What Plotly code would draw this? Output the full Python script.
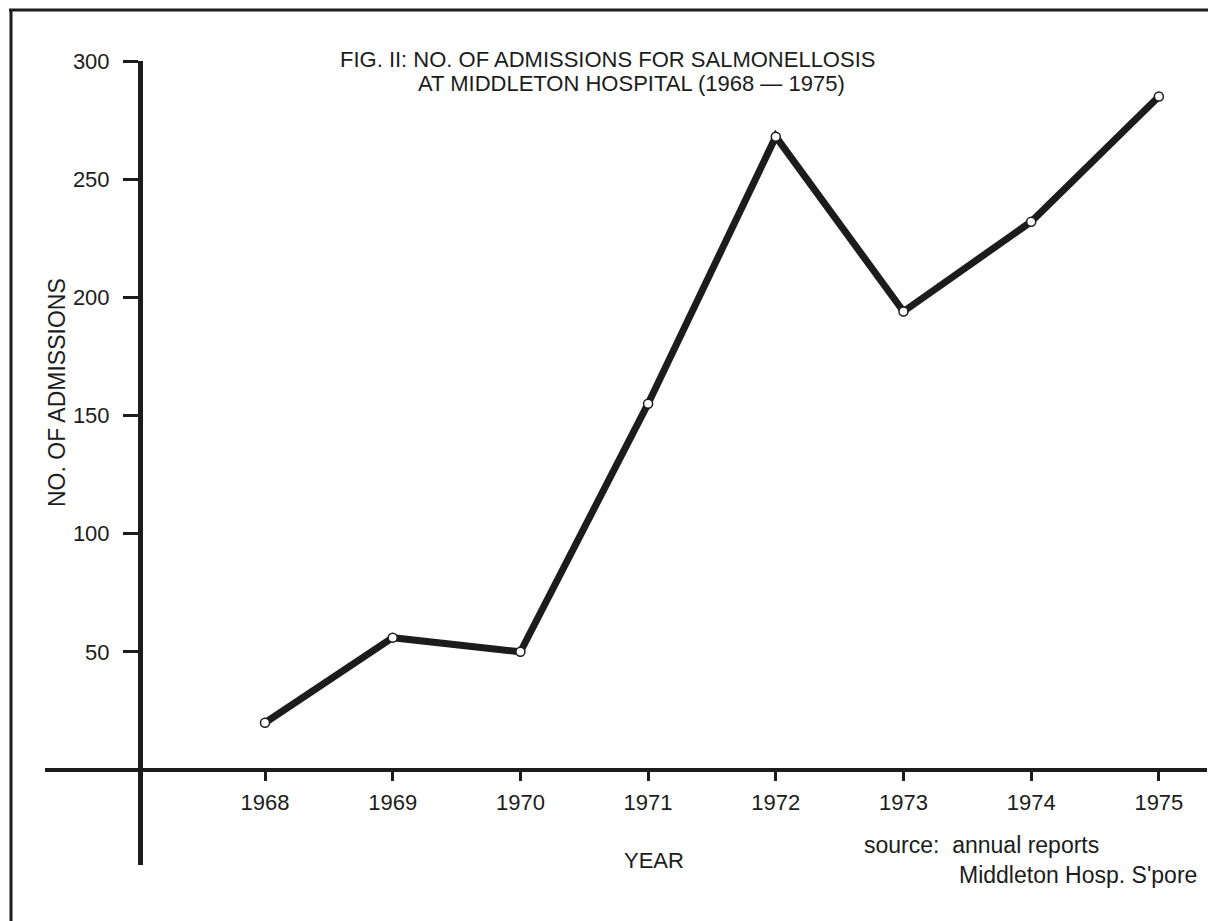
import plotly.graph_objects as go

years = [1968, 1969, 1970, 1971, 1972, 1973, 1974, 1975]
admissions = [20, 56, 50, 155, 268, 194, 232, 285]
ytick_vals = [50, 100, 150, 200, 250, 300]
xtick_vals = years
xtick_text = [str(y) for y in years]

# browser body margin (8px) is compensated: figure is 8px smaller
OFF = 8
W, H = 1216 - OFF, 921 - OFF
L, T = 45 - OFF, 61 - OFF          # plot-area left/top (page coords 45, 61)
R = W - (1207 - OFF)               # plot-area right at page x=1207
B = H - (865 - OFF)                # plot-area bottom at page y=865
pw, ph = W - L - R, H - T - B

def px(x):  # page x -> paper
    return (x - OFF - L) / pw

def py(y):  # page y -> paper
    return (H - B - (y - OFF)) / ph

INK = "#1c1c1c"
FONT = "Liberation Sans, Arial, Helvetica, sans-serif"

fig = go.Figure()
fig.add_trace(go.Scatter(
    x=years, y=admissions, mode="lines+markers",
    line=dict(color=INK, width=7),
    marker=dict(symbol="circle", size=9, color="white",
                line=dict(color=INK, width=1.5)),
    showlegend=False, hoverinfo="x+y",
))

fig.update_layout(
    width=W, height=H,
    margin=dict(l=L, r=R, t=T, b=B, pad=0),
    paper_bgcolor="white", plot_bgcolor="white",
    font=dict(family=FONT, color=INK, size=20),
    xaxis=dict(
        range=[1966.277, 1975.377], showgrid=False, zeroline=False,
        anchor="free", position=py(770),
        showline=True, linewidth=4, linecolor=INK,
        tickmode="array", tickvals=xtick_vals, ticktext=xtick_text,
        ticks="outside", ticklen=9, tickwidth=3, tickcolor=INK,
        tickfont=dict(size=22, family=FONT, color=INK),
        ticklabelstandoff=3,
    ),
    yaxis=dict(
        range=[-40.2, 300], showgrid=False, zeroline=False,
        anchor="free", position=px(140),
        showline=True, linewidth=5, linecolor=INK,
        tickmode="array", tickvals=ytick_vals,
        ticks="outside", ticklen=15, tickwidth=3, tickcolor=INK,
        tickfont=dict(size=22, family=FONT, color=INK),
        ticklabelstandoff=9,
    ),
)

ann = [
    dict(text="FIG. II: NO. OF ADMISSIONS FOR SALMONELLOSIS", x=px(607), y=py(60), size=22),
    dict(text="AT MIDDLETON HOSPITAL (1968 — 1975)", x=px(631), y=py(84), size=22),
    dict(text="YEAR", x=px(654), y=py(860), size=22),
]
for a in ann:
    fig.add_annotation(text=a["text"], x=a["x"], y=a["y"], xref="paper", yref="paper",
                       xanchor="center", yanchor="middle", showarrow=False,
                       font=dict(size=a["size"], family=FONT, color=INK))

fig.add_annotation(text="NO. OF ADMISSIONS", x=px(57), y=py(393), xref="paper", yref="paper",
                   xanchor="center", yanchor="middle", textangle=-90, showarrow=False,
                   font=dict(size=23, family=FONT, color=INK))
fig.add_annotation(text="source:  annual reports", x=px(862), y=py(845), xref="paper", yref="paper",
                   xanchor="left", yanchor="middle", showarrow=False,
                   font=dict(size=23, family=FONT, color=INK))
fig.add_annotation(text="Middleton Hosp. S'pore", x=px(957), y=py(875), xref="paper", yref="paper",
                   xanchor="left", yanchor="middle", showarrow=False,
                   font=dict(size=23, family=FONT, color=INK))

# page frame (left and top edges of the scanned figure border)
fig.add_shape(type="line", xref="paper", yref="paper", x0=px(11), x1=px(11), y0=py(10), y1=py(925),
              line=dict(color=INK, width=3))
fig.add_shape(type="line", xref="paper", yref="paper", x0=px(9), x1=px(1220), y0=py(10), y1=py(10),
              line=dict(color=INK, width=3))

fig.write_html("out.html")
